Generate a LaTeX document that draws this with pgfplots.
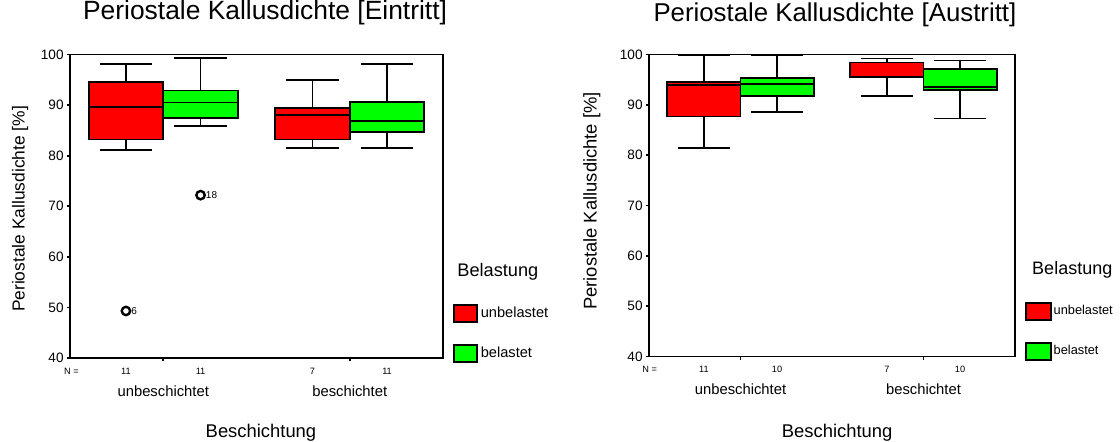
\documentclass[border=0pt]{standalone}
\usepackage{pgfplots}
\pgfplotsset{compat=1.18}
\usepgfplotslibrary{statistics}
\usepackage{fontspec}
\setmainfont{Liberation Sans}
\definecolor{boxred}{RGB}{255,0,0}
\definecolor{boxgreen}{RGB}{0,255,0}
\pgfplotsset{
  spssaxis/.style={
    anchor=south west, scale only axis,
    xmin=0.5, xmax=2.5, ymin=40, ymax=100,
    ytick={40,50,...,100}, xtick={1,2},
    xticklabels={unbeschichtet,beschichtet},
    tick align=outside, major tick length=1.5pt,
    xtick pos=bottom, ytick pos=left,
    axis line style={line width=0.9pt},
    tick style={line width=0.9pt, black},
    /pgf/number format/assume math mode=true,
    yticklabel style={font=\fontsize{6.8}{7}\selectfont, inner sep=1.5pt},
    clip=false,
    boxplot/draw direction=y,
    boxplot/box extend=0.4,
    boxplot/whisker extend=0.28,
    boxplot/every box/.style={line width=0.9pt},
    boxplot/every whisker/.style={line width=0.85pt},
    boxplot/every median/.style={line width=0.9pt},
  },
  spssbox/.style={fill=#1, draw=black, solid, line width=0.85pt, mark=none},
}
\begin{document}
\begin{tikzpicture}
\useasboundingbox (0,0) rectangle (560pt,-220.5pt);
% ---------------- left: Eintritt ----------------
\begin{axis}[spssaxis,
  at={(35pt,-179pt)}, width=186.5pt, height=151.75pt,
  title={Periostale Kallusdichte [Eintritt]},
  title style={at={(axis description cs:0.523,1)}, anchor=base, yshift=11.75pt, font=\fontsize{13.2}{15}\selectfont},
  xlabel={Beschichtung},
  xlabel style={at={(axis description cs:0.512,0)}, anchor=base, yshift=-39.7pt, font=\fontsize{9.2}{10}\selectfont},
  ylabel={Periostale Kallusdichte [\%]},
  ylabel style={at={(axis description cs:-0.134,0.491)}, anchor=center, font=\fontsize{8.7}{10}\selectfont},
  xticklabel style={anchor=center, yshift=-15.3pt, font=\fontsize{7.4}{8}\selectfont},
  extra x ticks={0.8,1.2,1.8,2.2},
  extra x tick labels={11,11,7,11},
  extra x tick style={major tick length=0pt, xticklabel style={yshift=8.5pt, font=\fontsize{4.6}{5}\selectfont}},
  legend style={at={(axis description cs:1.027,0.178)}, anchor=north west, draw=none, fill=none,
    inner sep=0pt, outer sep=0pt, row sep=10.75pt, nodes={inner sep=0pt},
    font=\fontsize{7.3}{8}\selectfont,
    /tikz/every odd column/.append style={column sep=1.5pt}},
  legend cell align=left,
]
\addplot[spssbox=boxred, forget plot, boxplot prepared={draw position=0.8, lower whisker=81.1, lower quartile=83.2, median=89.6, upper quartile=94.6, upper whisker=98.1}] coordinates {};
\addplot[spssbox=boxgreen, forget plot, boxplot prepared={draw position=1.2, lower whisker=85.8, lower quartile=87.4, median=90.5, upper quartile=92.9, upper whisker=99.3}] coordinates {};
\addplot[spssbox=boxred, forget plot, boxplot prepared={draw position=1.8, lower whisker=81.5, lower quartile=83.2, median=88.0, upper quartile=89.4, upper whisker=94.95}] coordinates {};
\addplot[spssbox=boxgreen, forget plot, boxplot prepared={draw position=2.2, lower whisker=81.5, lower quartile=84.7, median=86.9, upper quartile=90.6, upper whisker=98.1}] coordinates {};
\addplot[only marks, mark=o, mark size=2.1pt, line width=1.2pt, black, forget plot,
  nodes near coords, point meta=explicit symbolic,
  nodes near coords style={anchor=west, inner sep=0.5pt, xshift=1.6pt, font=\fontsize{5}{5}\selectfont}]
  coordinates {(0.8,49.3) [6] (1.2,72.2) [18]};
\addlegendimage{legend image code/.code={\draw[fill=boxred,draw=black,line width=0.9pt] (0pt,-4.25pt) rectangle (11.5pt,4.25pt);}}
\addlegendentry{unbelastet}
\addlegendimage{legend image code/.code={\draw[fill=boxgreen,draw=black,line width=0.9pt] (0pt,-4.25pt) rectangle (11.5pt,4.25pt);}}
\addlegendentry{belastet}
\node[anchor=base west, inner sep=0pt, font=\fontsize{9.1}{10}\selectfont] at (axis description cs:1.0375,0.267) {Belastung};
\node[anchor=center, inner sep=0pt, font=\fontsize{4.6}{5}\selectfont] at (axis description cs:0.004,0) [yshift=-6.85pt] {N =};
\end{axis}
% ---------------- right: Austritt ----------------
\begin{axis}[spssaxis,
  at={(324.5pt,-178.25pt)}, width=183pt, height=151pt,
  title={Periostale Kallusdichte [Austritt]},
  title style={at={(axis description cs:0.508,1)}, anchor=base, yshift=10.75pt, font=\fontsize{12.9}{15}\selectfont},
  xlabel={Beschichtung},
  xlabel style={at={(axis description cs:0.514,0)}, anchor=base, yshift=-40.25pt, font=\fontsize{9.2}{10}\selectfont},
  ylabel={Periostale Kallusdichte [\%]},
  ylabel style={at={(axis description cs:-0.156,0.515)}, anchor=center, font=\fontsize{9.2}{10}\selectfont},
  xticklabel style={anchor=center, yshift=-14.8pt, font=\fontsize{7.4}{8}\selectfont},
  extra x ticks={0.8,1.2,1.8,2.2},
  extra x tick labels={11,10,7,10},
  extra x tick style={major tick length=0pt, xticklabel style={yshift=8.55pt, font=\fontsize{4.6}{5}\selectfont}},
  legend style={at={(axis description cs:1.027,0.180)}, anchor=north west, draw=none, fill=none,
    inner sep=0pt, outer sep=0pt, row sep=10.5pt, nodes={inner sep=0pt},
    font=\fontsize{6.4}{7}\selectfont,
    /tikz/every odd column/.append style={column sep=1pt}},
  legend cell align=left,
]
\addplot[spssbox=boxred, forget plot, boxplot prepared={draw position=0.8, lower whisker=81.4, lower quartile=87.7, median=94.0, upper quartile=94.5, upper whisker=99.8}] coordinates {};
\addplot[spssbox=boxgreen, forget plot, boxplot prepared={draw position=1.2, lower whisker=88.6, lower quartile=91.8, median=94.2, upper quartile=95.3, upper whisker=99.8}] coordinates {};
\addplot[spssbox=boxred, forget plot, boxplot prepared={draw position=1.8, lower whisker=91.7, lower quartile=95.6, median=95.6, upper quartile=98.4, upper whisker=99.2}] coordinates {};
\addplot[spssbox=boxgreen, forget plot, boxplot prepared={draw position=2.2, lower whisker=87.3, lower quartile=93.0, median=93.6, upper quartile=97.2, upper whisker=98.8}] coordinates {};
\addlegendimage{legend image code/.code={\draw[fill=boxred,draw=black,line width=0.9pt] (0pt,-4.25pt) rectangle (12.5pt,4.25pt);}}
\addlegendentry{unbelastet}
\addlegendimage{legend image code/.code={\draw[fill=boxgreen,draw=black,line width=0.9pt] (0pt,-4.25pt) rectangle (12.5pt,4.25pt);}}
\addlegendentry{belastet}
\node[anchor=base west, inner sep=0pt, font=\fontsize{9}{10}\selectfont] at (axis description cs:1.046,0.27) {Belastung};
\node[anchor=center, inner sep=0pt, font=\fontsize{4.6}{5}\selectfont] at (axis description cs:0.002,0) [yshift=-6.25pt] {N =};
\end{axis}
\end{tikzpicture}
\end{document}
